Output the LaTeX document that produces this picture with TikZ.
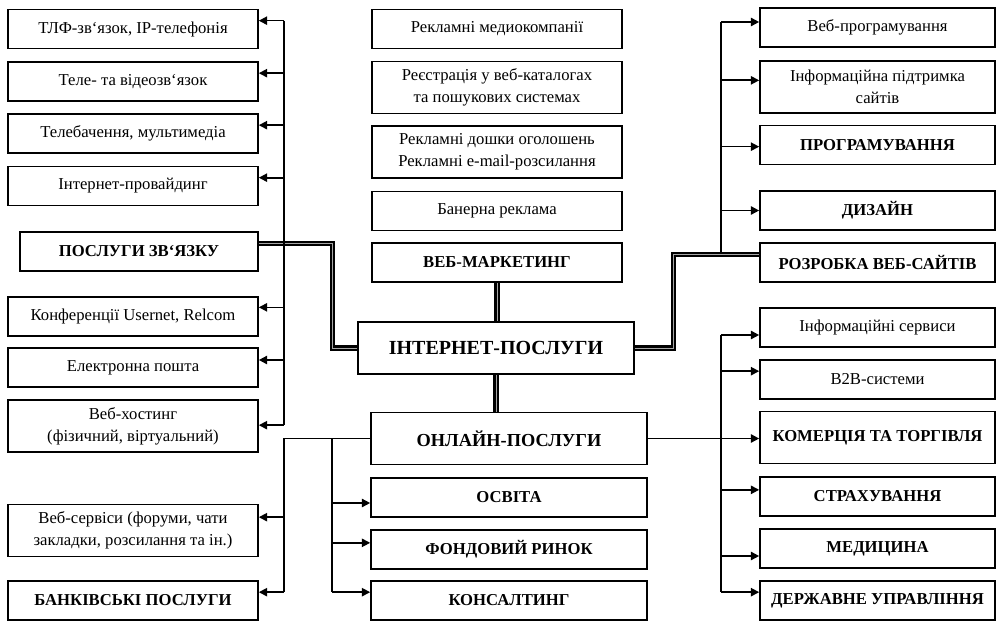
\documentclass[tikz,border=0pt]{standalone}
\usepackage{fontspec}
\setmainfont{Liberation Serif}
\usetikzlibrary{arrows.meta}

\tikzset{
  box/.style={draw, line width=1pt, align=center, inner sep=1pt,
    minimum height=23.4pt, font=\fontsize{10}{13}\selectfont},
  tall/.style={minimum height=31.2pt},
  side/.style={box, minimum width=150pt},
  mid/.style={box, minimum width=150pt},
  wide/.style={box, minimum width=165.6pt},
  rside/.style={box, minimum width=141pt},
  head/.style={font=\fontsize{10}{13}\selectfont\bfseries},
  wire/.style={line width=1pt},
  arr/.style={wire, -{Triangle[length=5pt,width=5pt]}},
  trunk/.style={double=black!35, double distance=0.4pt, line width=1.4pt}
}

\begin{document}
\begin{tikzpicture}[x=0.6pt, y=-0.6pt]
\useasboundingbox (0,0) rectangle (1000,621);
%% left column
\node[side] (tlf) at (133,29) {ТЛФ-зв‘язок, IP-телефонія};
\node[side] (tele) at (133,81.5) {Теле- та відеозв‘язок};
\node[side] (tv) at (133,133.5) {Телебачення, мультимедіа};
\node[side] (isp) at (133,186) {Інтернет-провайдинг};
\node[box, head, minimum width=142.8pt] (zv) at (139,251.5) {ПОСЛУГИ ЗВ‘ЯЗКУ};
\node[side] (conf) at (133,316.5) {Конференції Usernet, Relcom};
\node[side] (mail) at (133,367.5) {Електронна пошта};
\node[side, tall] (host) at (133,426) {Веб-хостинг\\(фізичний, віртуальний)};
\node[side, tall] (websrv) at (133,530.5) {Веб-сервіси (форуми, чати\\закладки, розсилання та ін.)};
\node[side, head] (bank) at (133,600.5) {БАНКІВСЬКІ ПОСЛУГИ};
%% middle column
\node[mid] (media) at (497,29) {Рекламні медиокомпанії};
\node[mid, tall] (reg) at (497,87.5) {Реєстрація у веб-каталогах\\та пошукових системах};
\node[mid, tall] (board) at (497,152) {Рекламні дошки оголошень\\Рекламні e-mail-розсилання};
\node[mid] (banner) at (497,211) {Банерна реклама};
\node[mid, head] (mkt) at (497,262.5) {ВЕБ-МАРКЕТИНГ};
\node[wide, tall, font=\fontsize{12}{14}\selectfont\bfseries] (inet) at (496,348) {ІНТЕРНЕТ-ПОСЛУГИ};
\node[wide, tall, font=\fontsize{11}{13}\selectfont\bfseries] (online) at (509,438.5) {ОНЛАЙН-ПОСЛУГИ};
\node[wide, head] (edu) at (509,497.5) {ОСВІТА};
\node[wide, head] (stock) at (509,549.5) {ФОНДОВИЙ РИНОК};
\node[wide, head] (consult) at (509,600.5) {КОНСАЛТИНГ};
%% right column
\node[rside] (webprog) at (877.5,27.5) {Веб-програмування};
\node[rside, tall] (infsup) at (877.5,87) {Інформаційна підтримка\\сайтів};
\node[rside, head] (prog) at (877.5,145) {ПРОГРАМУВАННЯ};
\node[rside, head] (design) at (877.5,210.5) {ДИЗАЙН};
\node[rside, head] (dev) at (877.5,262.5) {РОЗРОБКА ВЕБ-САЙТІВ};
\node[rside] (infsrv) at (877.5,327.5) {Інформаційні сервиси};
\node[rside] (b2b) at (877.5,379.5) {B2B-системи};
\node[rside, head, tall] (trade) at (877.5,437.5) {КОМЕРЦІЯ ТА ТОРГІВЛЯ};
\node[rside, head] (insur) at (877.5,496.5) {СТРАХУВАННЯ};
\node[rside, head] (med) at (877.5,548.5) {МЕДИЦИНА};
\node[rside, head] (gov) at (877.5,600.5) {ДЕРЖАВНЕ УПРАВЛІННЯ};
%% trunks
\draw[trunk] (mkt.south) -- (mkt.south |- inet.north);
\draw[trunk] (inet.south) -- (inet.south |- online.north);
\draw[trunk] ([yshift=5pt]zv.east) -| ([xshift=-15pt]inet.west) -- (inet.west);
\draw[trunk] ([yshift=5pt]dev.west) -| ([xshift=23pt]inet.east) -- (inet.east);
%% communication services
\draw[wire] ([xshift=15pt,yshift=5pt]tlf.east) -- ([xshift=15pt,yshift=0.5pt]host.east);
\foreach \n/\s in {tlf/5pt, tele/5pt, tv/5pt, isp/5pt, conf/5.5pt, mail/4.5pt, host/0.5pt}
  \draw[arr] ([xshift=15pt,yshift=\s]\n.east) -- ([yshift=\s]\n.east);
%% web development
\draw[wire] ([xshift=-23pt,yshift=5pt]dev.west) -- ([xshift=-23pt,yshift=3.3pt]webprog.west);
\foreach \n/\s in {webprog/3.3pt, infsup/4pt, prog/-1pt, design/0pt}
  \draw[arr] ([xshift=-23pt,yshift=\s]\n.west) -- ([yshift=\s]\n.west);
%% online services
\draw[arr] (online.east) -- (online.east -| trade.west);
\draw[wire] ([xshift=-23pt,yshift=-4.5pt]infsrv.west) -- ([xshift=-23pt,yshift=5pt]gov.west);
\foreach \n/\s in {infsrv/-4.5pt, b2b/5pt, insur/4pt, med/-4.5pt, gov/5pt}
  \draw[arr] ([xshift=-23pt,yshift=\s]\n.west) -- ([yshift=\s]\n.west);
\draw[wire] (online.west) -| ([xshift=15pt,yshift=5pt]bank.east);
\foreach \n/\s in {websrv/8pt, bank/5pt}
  \draw[arr] ([xshift=15pt,yshift=\s]\n.east) -- ([yshift=\s]\n.east);
\draw[wire] ([xshift=-23pt]online.west) -- ([xshift=-23pt,yshift=5pt]consult.west);
\foreach \n/\s in {edu/-3.3pt, stock/4pt, consult/5pt}
  \draw[arr] ([xshift=-23pt,yshift=\s]\n.west) -- ([yshift=\s]\n.west);
\end{tikzpicture}
\end{document}
